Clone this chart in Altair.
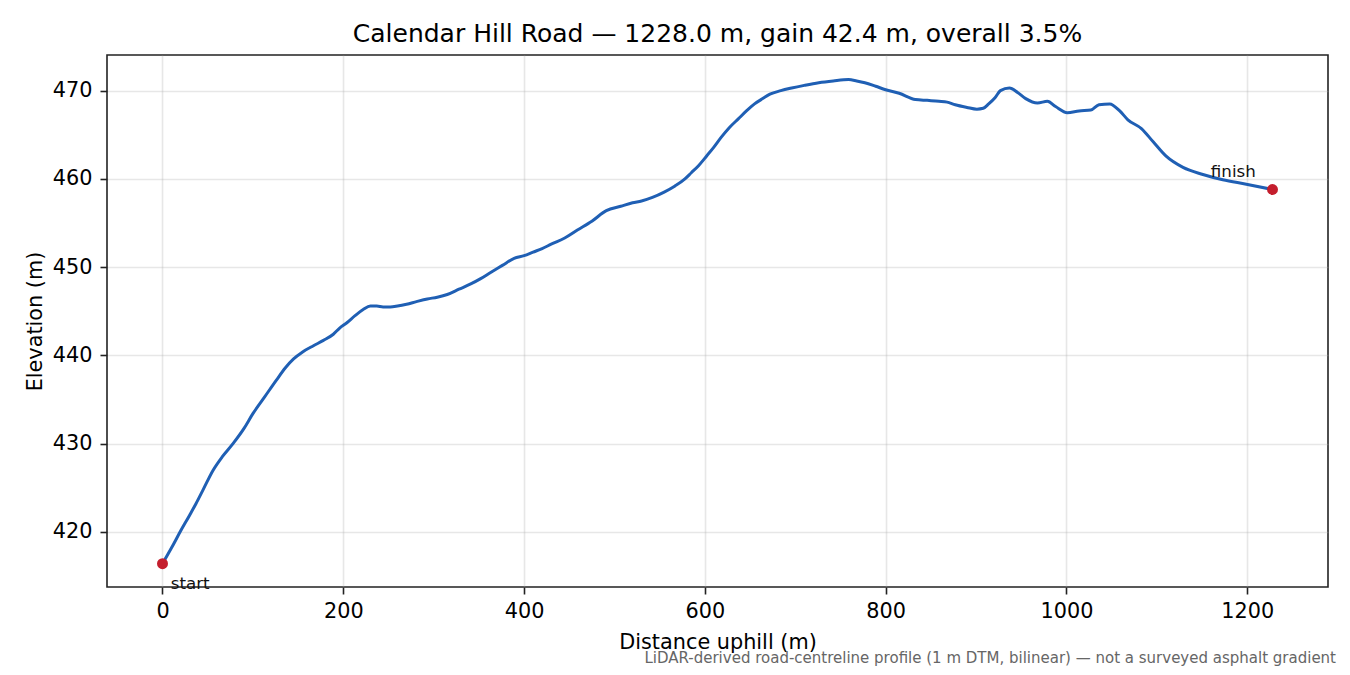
#!/usr/bin/env python3

import altair as alt
import pandas as pd

# profile (distance along road, elevation)
distance_m = [
    0, 10, 20, 30, 37, 45, 56, 66, 78, 90, 100, 113, 126, 136, 145, 155,
    167, 178, 189, 196, 204, 213, 222, 230, 237, 244, 252, 260, 270, 281,
    293, 304, 315, 328, 341, 352, 363, 376, 389, 400, 410, 420, 430, 445,
    459, 475, 491, 507, 520, 530, 542, 555, 567, 578, 585, 593, 602, 610,
    618, 627, 637, 646, 655, 664, 672, 684, 696, 710, 726, 742, 759, 768,
    777, 789, 800, 815, 833, 846, 859, 868, 877, 890, 901, 908, 914, 921,
    927, 937, 946, 955, 968, 979, 988, 1001, 1014, 1027, 1036, 1048, 1059,
    1068, 1083, 1096, 1110, 1129, 1151, 1173, 1199, 1228,
]
elevation_m = [
    416.4, 418.2, 420.1, 421.9, 423.2, 424.8, 427.0, 428.5, 430.0, 431.7,
    433.4, 435.3, 437.2, 438.6, 439.6, 440.4, 441.1, 441.7, 442.4, 443.1,
    443.7, 444.5, 445.2, 445.6, 445.6, 445.5, 445.5, 445.6, 445.8, 446.1,
    446.4, 446.6, 446.9, 447.5, 448.1, 448.7, 449.4, 450.2, 451.0, 451.3,
    451.7, 452.1, 452.6, 453.3, 454.2, 455.2, 456.4, 456.9, 457.3, 457.5,
    457.9, 458.5, 459.2, 460.0, 460.7, 461.5, 462.6, 463.6, 464.7, 465.8,
    466.8, 467.7, 468.5, 469.1, 469.6, 470.0, 470.3, 470.6, 470.9, 471.1,
    471.25, 471.1, 470.9, 470.5, 470.1, 469.7, 469.0, 468.9, 468.8, 468.7,
    468.4, 468.1, 467.9, 468.0, 468.5, 469.2, 470.0, 470.3, 469.8, 469.1,
    468.6, 468.8, 468.2, 467.5, 467.7, 467.8, 468.4, 468.5, 467.7, 466.7,
    465.7, 464.2, 462.6, 461.3, 460.5, 459.9, 459.4, 458.8,
]
x_ticks = [0, 200, 400, 600, 800, 1000, 1200]
y_ticks = [420, 430, 440, 450, 460, 470]
road = "Calendar Hill Road"
note = ("LiDAR-derived road-centreline profile (1 m DTM, bilinear) "
        "\u2014 not a surveyed asphalt gradient")

FONT = "DejaVu Sans"
BLUE = "#1f5fb4"
RED = "#c41e2d"

length = distance_m[-1] - distance_m[0]
gain = elevation_m[-1] - elevation_m[0]
title = (f"{road} \u2014 {length:.1f} m, gain {gain:.1f} m, "
         f"overall {100 * gain / length:.1f}%")

W, H = 1221, 532

profile = pd.DataFrame({"d": distance_m, "e": elevation_m})
ends = pd.DataFrame({
    "d": [distance_m[0], distance_m[-1]],
    "e": [elevation_m[0], elevation_m[-1]],
    "label": ["start", "finish"],
})

x = alt.X("d:Q").scale(domain=[-61.4, 1289.4], nice=False, zero=False).axis(
    values=x_ticks, format="d", labelBaseline="alphabetic", labelPadding=23,
    titleBaseline="alphabetic", titleX=W / 2, titleY=61.3,
).title("Distance uphill (m)")
y = alt.Y("e:Q").scale(domain=[413.76, 474.04], nice=False, zero=False).axis(
    values=y_ticks, format="d", labelPadding=8,
    titleBaseline="alphabetic", titleX=-66, titleY=H / 2,
).title("Elevation (m)")

line = alt.Chart(profile).mark_line(
    color=BLUE, strokeWidth=3, interpolate="monotone"
).encode(x, y)
dots = alt.Chart(ends).mark_circle(color=RED, size=120, opacity=1).encode(x, y)
start_lbl = alt.Chart(ends.iloc[[0]]).mark_text(
    align="left", baseline="alphabetic", dx=8.3, dy=25, font=FONT,
    fontSize=16.7, color="#111",
).encode(x, y, text="label:N")
finish_lbl = alt.Chart(ends.iloc[[1]]).mark_text(
    align="right", baseline="alphabetic", dx=-16.7, dy=-12.6, font=FONT,
    fontSize=16.7, color="#111",
).encode(x, y, text="label:N")
footnote = alt.Chart(pd.DataFrame({"t": [note]})).mark_text(
    align="right", baseline="alphabetic", font=FONT, fontSize=15,
    color="#666666",
).encode(x=alt.value(1229), y=alt.value(607.7), text="t:N")

chart = (
    alt.layer(line, dots, start_lbl, finish_lbl, footnote)
    .properties(
        width=W,
        height=H,
        title=alt.TitleParams(
            title, font=FONT, fontSize=25, fontWeight="normal", color="black",
            anchor="middle", frame="group", baseline="alphabetic", offset=-12,
        ),
        autosize=alt.AutoSizeParams(type="none"),
        padding={"left": 99, "top": 47, "right": 10, "bottom": 80},
    )
    .configure_view(stroke="#222", strokeWidth=1.6)
    .configure_axis(
        domain=False,
        grid=True,
        gridColor="#b0b0b0",
        gridOpacity=0.3,
        gridWidth=1.6,
        ticks=True,
        tickColor="#222",
        tickSize=7,
        tickWidth=1.6,
        labelFont=FONT,
        labelFontSize=20.8,
        labelColor="black",
        titleFont=FONT,
        titleFontSize=20.8,
        titleFontWeight="normal",
        titleColor="black",
    )
)

chart.save("out.html", embed_options={"renderer": "svg", "actions": False})
